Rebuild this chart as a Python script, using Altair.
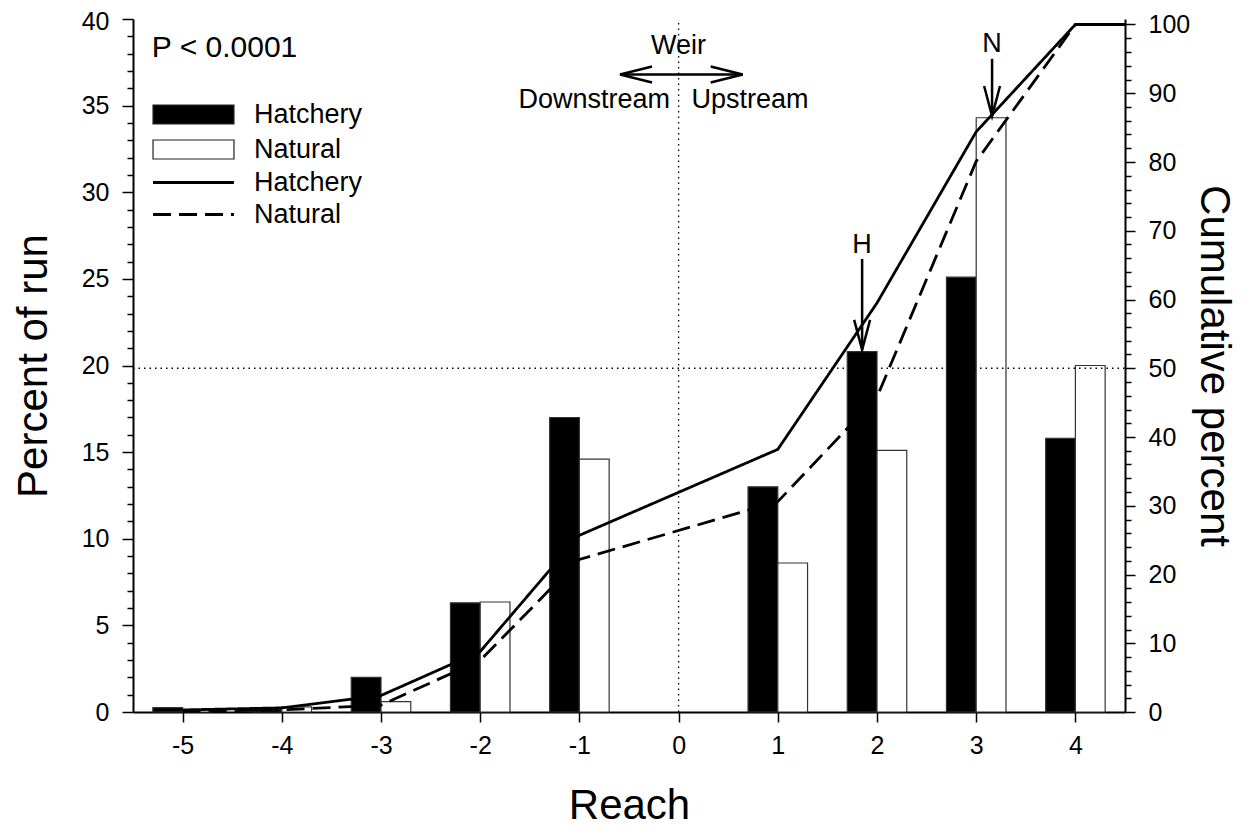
import altair as alt
import pandas as pd

FONT = "Liberation Sans"

# ---- data ----
reach = [-5, -4, -3, -2, -1, 1, 2, 3, 4]
hatchery_pct = [0.25, 0.15, 2.0, 6.3, 17.0, 13.0, 20.8, 25.1, 15.8]
natural_pct = [0.1, 0.3, 0.6, 6.35, 14.6, 8.6, 15.1, 34.3, 20.0]

cum_reach = [-5, -4, -3, -2, -1, 1, 2, 3, 4, 4.5]
hatchery_cum = [0.3, 0.6, 2.4, 8.8, 25.7, 38.2, 59.5, 84.4, 100, 100]
natural_cum = [0.1, 0.3, 1.0, 7.5, 22.2, 30.6, 45.8, 80.1, 100, 100]

series = ["Hatchery", "Natural"]
line_series = ["Hatchery cumulative", "Natural cumulative"]
x_ticks = [-5, -4, -3, -2, -1, 0, 1, 2, 3, 4]
left_ticks = list(range(0, 41))
right_ticks = list(range(0, 101, 2))

# annotation texts (data coordinates: reach, percent of run)
center_labels = ["Weir", "H", "N"]
center_x = [0.0, 1.85, 3.16]
center_y = [37.98, 26.49, 38.11]

# arrows
shaft_x = [1.85, 3.16]
shaft_top = [26.15, 37.7]
shaft_tip = [20.9, 34.4]
weir_from, weir_to, weir_y = -0.59, 0.646, 36.8

BAR_W = 0.3

bars_df = pd.DataFrame({
    "reach": reach * 2,
    "pct": hatchery_pct + natural_pct,
    "bar_series": [series[0]] * len(reach) + [series[1]] * len(reach),
})
cum_df = pd.DataFrame({
    "reach": cum_reach * 2,
    "cum": hatchery_cum + natural_cum,
    "line_series": [line_series[0]] * len(cum_reach) + [line_series[1]] * len(cum_reach),
})

x_scale = alt.Scale(domain=[-5.5, 4.5], nice=False, zero=False)
yl_scale = alt.Scale(domain=[0, 40], nice=False, zero=True)
yr_scale = alt.Scale(domain=[0, 100.8], nice=False, zero=True)

x_axis = alt.Axis(
    values=x_ticks, title="Reach", grid=False, labelExpr="'' + datum.value",
    domainColor="black", domainWidth=2, tickColor="black", tickWidth=1.5, tickSize=10,
    labelFontSize=25, labelPadding=11, labelFlush=False, labelOverlap=False,
    titleFontSize=42, titleFontWeight="normal", titlePadding=27,
)
yl_axis = alt.Axis(
    values=left_ticks, title="Percent of run", grid=False,
    labelExpr="datum.value % 5 === 0 ? datum.label : ''",
    labelOffset={"condition": {"test": "datum.value === 40", "value": 2}, "value": 0},
    tickSize={"condition": {"test": "datum.value % 5 === 0", "value": 11}, "value": 6},
    domainColor="black", domainWidth=2, tickColor="black", tickWidth=1.5,
    labelFontSize=25, labelPadding=13, labelOverlap=False, labelFlush=False,
    titleFontSize=42, titleFontWeight="normal", titlePadding=26,
)
yr_axis = alt.Axis(
    orient="right", values=right_ticks, title="Cumulative percent", grid=False,
    labelExpr="datum.value % 10 === 0 ? datum.label : ''",
    tickSize={"condition": {"test": "datum.value % 10 === 0", "value": 10}, "value": 6},
    domainColor="black", domainWidth=2, tickColor="black", tickWidth=1.5,
    labelFontSize=25, labelPadding=13, labelOverlap=False, labelFlush=False,
    titleFontSize=42, titleFontWeight="normal", titlePadding=2, titleAngle=90,
)

X = lambda f: alt.X(f, scale=x_scale, axis=x_axis)
YL = lambda f: alt.Y(f, scale=yl_scale, axis=yl_axis)
YR = lambda f: alt.Y(f, scale=yr_scale, axis=yr_axis)

bars = alt.Chart(bars_df).transform_calculate(
    x0=f"datum.reach + (datum.bar_series === 'Hatchery' ? {-BAR_W} : 0)"
).transform_calculate(
    x1=f"datum.x0 + {BAR_W}"
).mark_bar(stroke="#333", strokeWidth=1.2).encode(
    x=X("x0:Q"), x2="x1:Q", y=YL("pct:Q"), y2=alt.datum(0),
    fill=alt.Fill("bar_series:N",
                  scale=alt.Scale(domain=series, range=["black", "white"]),
                  legend=alt.Legend(
                      title=None, orient="none", legendX=47, legendY=82,
                      symbolType="M-4.26,-1H4.26V1H-4.26Z", symbolSize=361,
                      symbolStrokeColor="#222", symbolStrokeWidth=1.2,
                      labelFontSize=27, labelFont=FONT, labelColor="black",
                      labelOffset=47, rowPadding=7, padding=0)),
)

vline = alt.Chart(pd.DataFrame({"x": [0], "y": [0], "y2": [40]})).mark_rule(
    color="black", strokeWidth=1.3, strokeDash=[1.5, 4]
).encode(x=X("x:Q"), y=YL("y:Q"), y2="y2:Q")

center_text = alt.Chart(pd.DataFrame({"x": center_x, "y": center_y, "t": center_labels})).mark_text(
    font=FONT, fontSize=27, align="center", baseline="alphabetic", color="black"
).encode(x=X("x:Q"), y=YL("y:Q"), text="t:N")

p_text = alt.Chart(pd.DataFrame({"x": [-5.31], "y": [37.8], "t": ["P < 0.0001"]})).mark_text(
    font=FONT, fontSize=30, align="left", baseline="alphabetic", color="black"
).encode(x=X("x:Q"), y=YL("y:Q"), text="t:N")

down_text = alt.Chart(pd.DataFrame({"x": [-0.087], "y": [34.86], "t": ["Downstream"]})).mark_text(
    font=FONT, fontSize=27, align="right", baseline="alphabetic", color="black"
).encode(x=X("x:Q"), y=YL("y:Q"), text="t:N")

up_text = alt.Chart(pd.DataFrame({"x": [0.13], "y": [34.86], "t": ["Upstream"]})).mark_text(
    font=FONT, fontSize=27, align="left", baseline="alphabetic", color="black"
).encode(x=X("x:Q"), y=YL("y:Q"), text="t:N")

shafts = alt.Chart(pd.DataFrame({"x": shaft_x, "y": shaft_top, "y2": shaft_tip})).mark_rule(
    color="black", strokeWidth=2.5
).encode(x=X("x:Q"), y=YL("y:Q"), y2="y2:Q")

heads_down = alt.Chart(pd.DataFrame({"x": shaft_x, "y": shaft_tip})).mark_point(
    shape="M-0.53,-2L0,0L0.53,-2", size=900, filled=False, stroke="black",
    strokeWidth=2.5, opacity=1
).encode(x=X("x:Q"), y=YL("y:Q"))

weir_shaft = alt.Chart(pd.DataFrame({"x": [weir_from], "x2": [weir_to], "y": [weir_y]})).mark_rule(
    color="black", strokeWidth=2.5
).encode(x=X("x:Q"), x2="x2:Q", y=YL("y:Q"))

head_left = alt.Chart(pd.DataFrame({"x": [weir_from], "y": [weir_y]})).mark_point(
    shape="M2,-0.5L0,0L2,0.5", size=1024, filled=False, stroke="black",
    strokeWidth=2.5, opacity=1
).encode(x=X("x:Q"), y=YL("y:Q"))

head_right = alt.Chart(pd.DataFrame({"x": [weir_to], "y": [weir_y]})).mark_point(
    shape="M-2,-0.5L0,0L-2,0.5", size=1024, filled=False, stroke="black",
    strokeWidth=2.5, opacity=1
).encode(x=X("x:Q"), y=YL("y:Q"))

lines = alt.Chart(cum_df).mark_line(color="black", strokeWidth=2.8).encode(
    x=X("reach:Q"), y=YR("cum:Q"),
    strokeDash=alt.StrokeDash("line_series:N",
                              scale=alt.Scale(domain=line_series, range=[[1, 0], [18, 8]]),
                              legend=alt.Legend(
                                  title=None, orient="none", legendX=47, legendY=150,
                                  labelExpr="split(datum.label, ' ')[0]",
                                  symbolType="M-4.26,0H4.26", symbolSize=361,
                                  symbolStrokeColor="black", symbolStrokeWidth=2.8,
                                  symbolFillColor="transparent",
                                  labelFontSize=27, labelFont=FONT, labelColor="black",
                                  labelOffset=47, rowPadding=4, padding=0)),
)

hline = alt.Chart(pd.DataFrame({"x": [-5.5], "x2": [4.5], "y": [50]})).mark_rule(
    color="black", strokeWidth=1.3, strokeDash=[1.5, 4]
).encode(x=X("x:Q"), x2="x2:Q", y=YR("y:Q"))

left = alt.layer(bars, vline, center_text, p_text, down_text, up_text,
                 shafts, heads_down, weir_shaft, head_left, head_right)
right = alt.layer(hline, lines)

chart = alt.layer(left, right).resolve_scale(y="independent").properties(
    width=992, height=693,
    autosize=alt.AutoSizeParams(type="none"),
    padding={"left": 125, "top": 11, "right": 113, "bottom": 116},
).configure_view(stroke=None).configure_axis(
    labelFont=FONT, titleFont=FONT, labelColor="black", titleColor="black"
).configure_legend(labelFont=FONT)

chart.save("out.html", embed_options={"renderer": "svg", "actions": False})
